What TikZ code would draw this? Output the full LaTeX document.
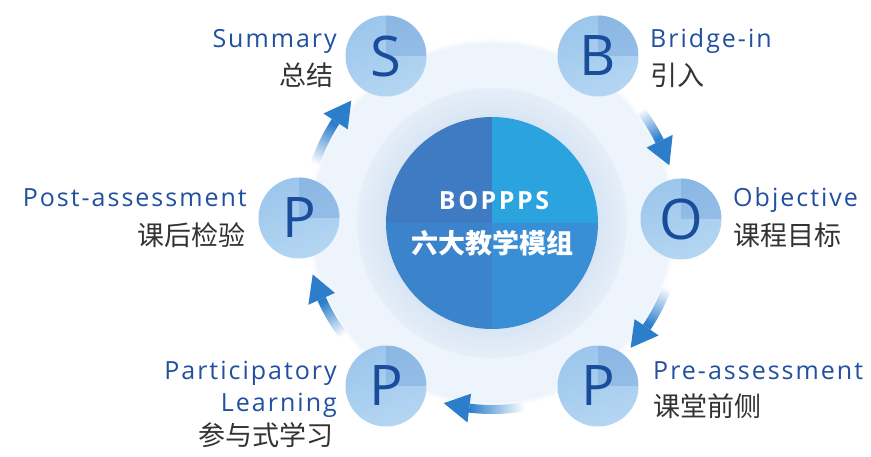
\documentclass[tikz,border=0pt]{standalone}
\usepackage{fontspec}
\setmainfont{Open Sans}
\newfontfamily\cjk{Noto Sans CJK SC}
\newfontfamily\latinsp[LetterSpace=8]{Open Sans}
\newfontfamily\ctrfont[LetterSpace=10]{Open Sans}
\newfontfamily\letterfont{Open Sans}
\usetikzlibrary{calc}
\definecolor{lblue}{HTML}{21509F}
\definecolor{ltext}{HTML}{333333}
\definecolor{letterc}{HTML}{1A4C9C}
\definecolor{arrowc}{HTML}{2C7ECB}
\definecolor{paleA}{HTML}{EEF4FB}
\definecolor{ringIn}{HTML}{D6E4F3}
\definecolor{ringOut}{HTML}{E6EEF8}
\definecolor{cUL}{HTML}{3F7BC2}
\definecolor{cUR}{HTML}{2AA3DF}
\definecolor{cLL}{HTML}{3B84CC}
\definecolor{cLR}{HTML}{398FD6}
\definecolor{smTop}{HTML}{9CC6EC}
\definecolor{smBot}{HTML}{B4D6F2}
\definecolor{smQ}{HTML}{5E93D2}
\newcommand\cyclearrow[2]{%
  \pgfmathsetmacro\hb{#2+8}%
  \pgfmathsetmacro\arrphi{atan2(sin(\hb)-sin(#1), cos(\hb)-cos(#1))}%
  \pgfmathsetmacro\sa{\arrphi-90}%
  \shade[top color=arrowc, bottom color=white, shading angle=\sa]
    ($(C)+(#1:182)$) arc (#1:\hb:182) -- ($(C)+(\hb:191)$) arc (\hb:#1:191) -- cycle;
  \fill[arrowc] ($(C)+(#2:186.5)$) -- ($(C)+(\hb:201)$) -- ($(C)+(\hb:172)$) -- cycle;
}
\tikzset{
  en/.style={font=\latinsp\fontsize{25}{30}\selectfont, text=lblue, inner sep=0pt},
  zh/.style={font=\cjk\fontsize{27}{32}\selectfont, text=ltext, inner sep=0pt},
  smallc/.style={circle, minimum size=81pt, inner sep=0pt, text=letterc,
    font=\letterfont\fontsize{56}{60}\selectfont,
    top color=smTop, bottom color=smBot, shading angle=20,
    path picture={\fill[smQ,opacity=.3] (path picture bounding box.center) rectangle (path picture bounding box.north east);}},
}
\begin{document}
\begin{tikzpicture}[x=1pt,y=1pt]
\useasboundingbox (0,0) rectangle (871,456);
\fill[white] (0,0) rectangle (871,456);
\coordinate (C) at (492,233);
% pale background disk
\foreach \r/\p in {184/30,182/60,180/100}{\fill[paleA!\p!white] (C) circle (\r);}
% ring
\foreach \k in {0,...,14}{%
  \pgfmathsetmacro\r{135-2*\k}%
  \pgfmathtruncatemacro\p{100-6*\k}%
  \fill[ringOut!\p!ringIn] (C) circle (\r);
}
% central circle
\fill[cUL] (C) -- ++(90:106) arc (90:180:106) -- cycle;
\fill[cUR] (C) -- ++(0:106) arc (0:90:106) -- cycle;
\fill[cLL] (C) -- ++(180:106) arc (180:270:106) -- cycle;
\fill[cLR] (C) -- ++(270:106) arc (270:360:106) -- cycle;
\node[white, font=\ctrfont\bfseries\fontsize{25}{30}\selectfont, anchor=base, inner sep=0pt] (t1) at (494,246) {BOPPPS};
\node[white, font=\cjk\bfseries\fontsize{27}{32}\selectfont, anchor=base, inner sep=0pt] (t2) at (492,203) {六大教学模组};
% arrows
\cyclearrow{38}{18}
\cyclearrow{-19}{-42}
\cyclearrow{-80}{-105}
\cyclearrow{218}{196}
\cyclearrow{163}{139}
% small circles
\node[smallc] (S) at (386,400) {S};
\node[smallc] (B) at (598,400) {B};
\node[smallc] (O) at (681,237) {O};
\node[smallc] (P1) at (598,70) {P};
\node[smallc] (P2) at (386,70) {P};
\node[smallc] (P3) at (299,238) {P};
% labels
\node[en, anchor=base east] (l1) at (337,408) {Summary};
\node[zh, anchor=base east] (l1z) at (334,370) {总结};
\node[en, anchor=base west] (l2) at (650,408) {Bridge-in};
\node[zh, anchor=base west] (l2z) at (650,370) {引入};
\node[en, anchor=base west] (l3) at (733,249) {Objective};
\node[zh, anchor=base west] (l3z) at (733,211) {课程目标};
\node[en, anchor=base east] (l4) at (247,249) {Post-assessment};
\node[zh, anchor=base east] (l4z) at (246,211) {课后检验};
\node[en, anchor=base west] (l5) at (653,77) {Pre-assessment};
\node[zh, anchor=base west] (l5z) at (653,40) {课堂前侧};
\node[en, anchor=base east] (l6) at (337,77) {Participatory};
\node[en, anchor=base east] (l6b) at (337,45) {Learning};
\node[zh, anchor=base east] (l6z) at (334,11) {参与式学习};
\end{tikzpicture}
\end{document}
